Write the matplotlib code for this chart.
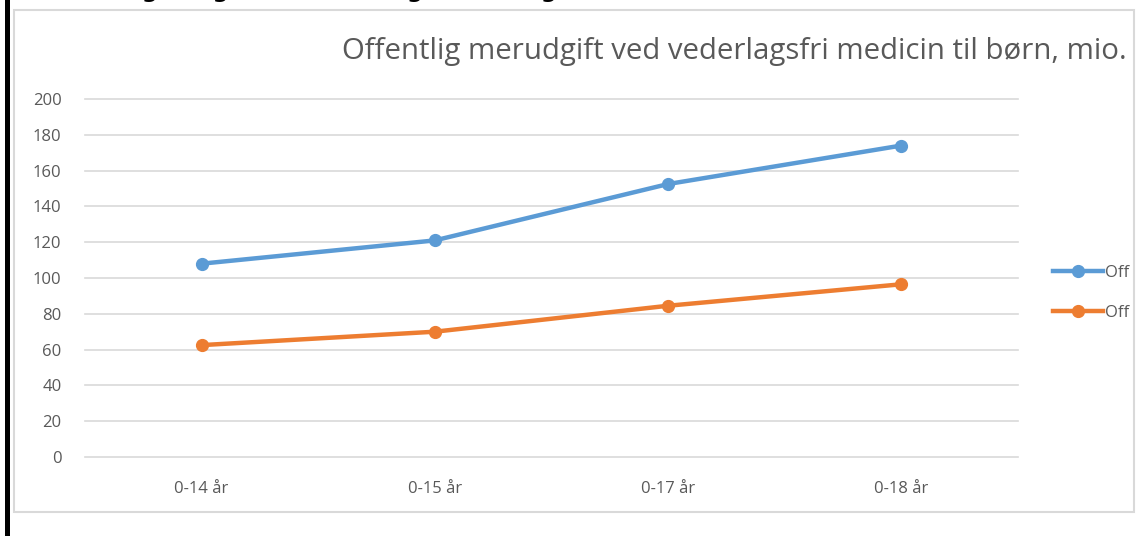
import matplotlib.pyplot as plt
from matplotlib.patches import Rectangle
from matplotlib.lines import Line2D

# data
categories = ['0-14 år', '0-15 år', '0-17 år', '0-18 år']
series_1 = [108, 121, 152.5, 174]
series_2 = [62.5, 70, 84.5, 96.5]
legend_labels = ['Off', 'Off']
title = 'Offentlig merudgift ved vederlagsfri medicin til børn, mio.'
heading = 'Udvikling i udgift ved ændring af aldersgrænsen'
yticks = list(range(0, 201, 20))

BLUE = '#5B9BD5'
ORANGE = '#ED7D31'
TEXT = '#595959'
GRID = '#D9D9D9'

plt.rcParams['font.family'] = ['Open Sans', 'DejaVu Sans']

W, H = 1137, 536
fig = plt.figure(figsize=(W / 100, H / 100), dpi=100)

# chart frame and black bar on the left
fig.patches.append(Rectangle((14 / W, 1 - 512 / H), (1134 - 14) / W, (512 - 10) / H,
                             transform=fig.transFigure, fill=False,
                             edgecolor=GRID, linewidth=1.5))
fig.patches.append(Rectangle((5 / W, 0), 5 / W, 1, transform=fig.transFigure,
                             facecolor='black', edgecolor='none'))

# bold heading above the chart, cut off by the top edge (only descenders show)
fig.text(40 / W, 1 + 2.5 / H, heading, fontsize=16, fontweight='bold', color='black',
         va='baseline', ha='left', family=['DejaVu Sans'])

ax = fig.add_axes([85 / W, 1 - 457 / H, (1018 - 85) / W, (457 - 99) / H])
x = range(len(categories))
ax.plot(x, series_1, color=BLUE, linewidth=3.2, marker='o', markersize=8.5,
        solid_capstyle='round', label=legend_labels[0], zorder=3)
ax.plot(x, series_2, color=ORANGE, linewidth=3.2, marker='o', markersize=8.5,
        solid_capstyle='round', label=legend_labels[1], zorder=3)

ax.set_xlim(-0.5, len(categories) - 0.5)
ax.set_ylim(0, 200)
ax.set_yticks(yticks)
ax.set_xticks(list(x))
ax.set_xticklabels(categories)
ax.tick_params(axis='both', length=0, labelsize=12, labelcolor=TEXT)
ax.tick_params(axis='y', pad=17)
ax.tick_params(axis='x', pad=17)
ax.grid(axis='y', color=GRID, linewidth=1.2)
for gl in ax.get_ygridlines():
    gl.set_clip_on(False)
ax.set_axisbelow(True)
for s in ax.spines.values():
    s.set_visible(False)

fig.text(1127 / W, 1 - 51 / H, title, fontsize=21.2, color=TEXT, ha='right', va='center')

handles = [Line2D([], [], color=BLUE, linewidth=3.2, marker='o', markersize=8.5),
           Line2D([], [], color=ORANGE, linewidth=3.2, marker='o', markersize=8.5)]
fig.legend(handles, legend_labels, loc='center left',
           bbox_to_anchor=(1053 / W, 1 - 293 / H), frameon=False,
           fontsize=12, labelcolor=TEXT, handlelength=3.0, handletextpad=0.1,
           labelspacing=1.45, borderpad=0, borderaxespad=0)

fig.savefig('out.png', dpi=100)
